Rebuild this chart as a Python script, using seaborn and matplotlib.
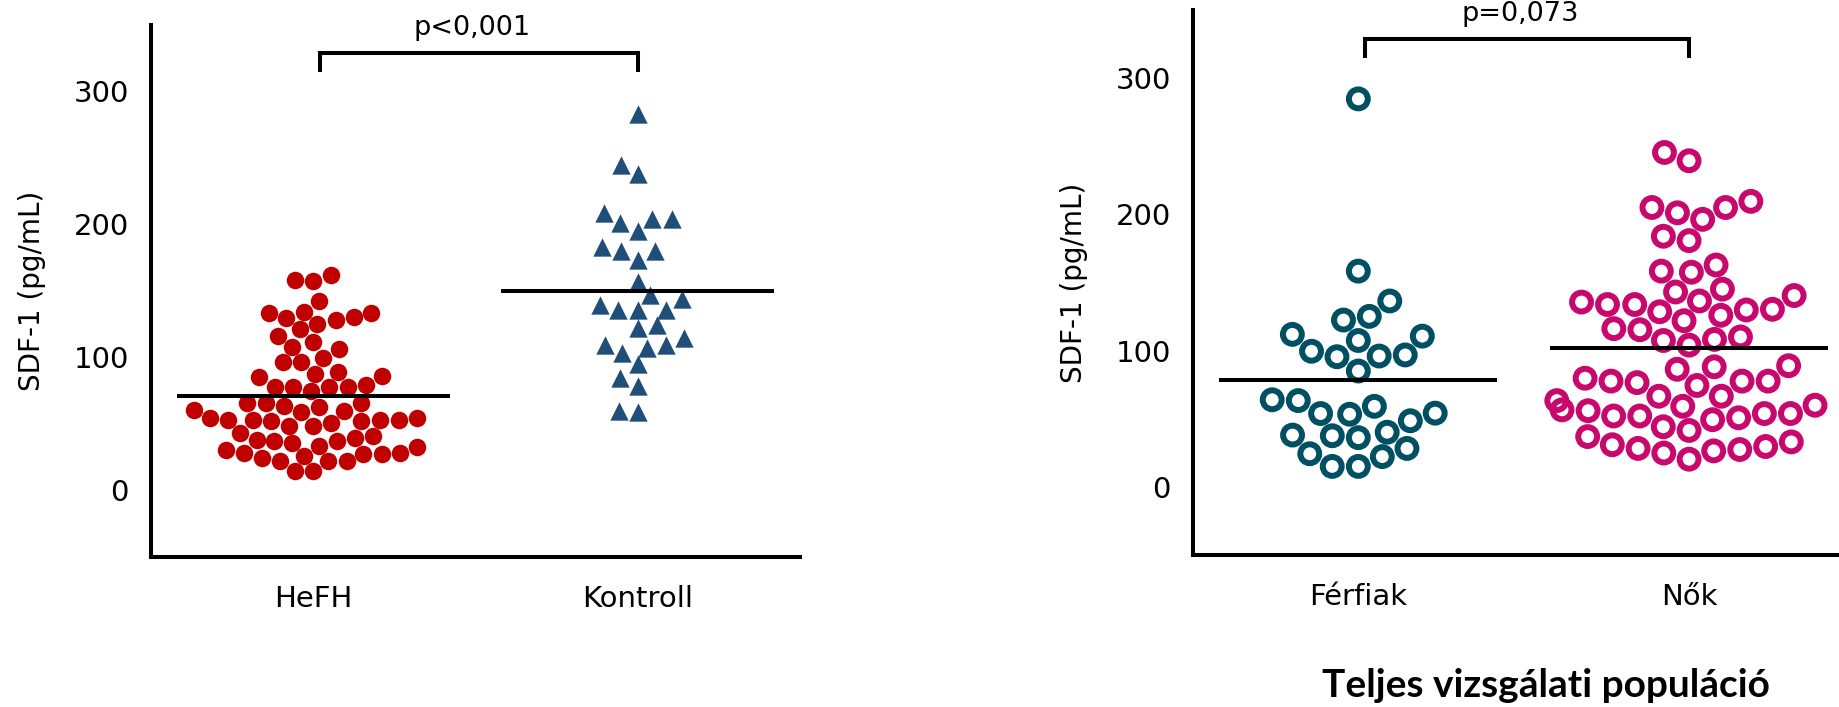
import warnings
import numpy as np
import pandas as pd
import matplotlib
matplotlib.use("Agg")
import matplotlib.pyplot as plt
import seaborn as sns

warnings.filterwarnings("ignore")

# ---------------- data ----------------
left_categories = ["HeFH", "Kontroll"]
right_categories = ["Férfiak", "Nők"]

hefh = [158.2, 157.7, 161.7, 142.6, 134.5, 133.4, 129.7, 125.4, 121.1, 127.8, 130.2, 133.4,
        116.0, 107.9, 106.5, 111.9, 99.5, 96.3, 96.3, 87.7, 85.0, 86.1, 89.0,
        79.4, 77.5, 78.0, 74.8, 77.5, 77.5,
        65.9, 62.7, 60.0, 58.6, 60.5, 63.2, 65.4, 65.9, 54.6, 54.1,
        53.3, 53.3, 51.9, 50.6, 48.7, 41.2, 37.9, 37.1, 35.8, 37.1, 39.5, 43.0, 48.7, 51.9, 53.3, 53.3,
        32.6, 28.2, 27.7, 25.8, 22.3, 21.8, 14.3, 14.3, 21.8, 24.5, 27.7, 28.2, 30.4, 33.6]

kontroll = [283.3, 245.0, 238.0, 208.5, 204.0, 195.0, 200.7, 204.0, 183.0, 179.7, 173.0, 179.7,
            157.0, 144.0, 146.6, 139.4, 135.9, 135.9, 135.9, 124.0, 121.9, 114.3, 109.0, 103.0,
            107.0, 109.0, 95.0, 84.2, 78.3, 58.7, 59.5]

ferfiak = [284.7, 158.3, 136.4, 125.1, 122.4, 111.9, 110.6, 107.4, 99.5, 96.8, 95.5, 96.0, 85.0,
           63.3, 59.1, 63.9, 53.3, 48.5, 53.8, 54.1, 38.0, 40.1, 36.1, 37.5, 28.2, 22.2, 24.3,
           15.0, 15.0]

nok = [245.4, 239.3, 209.5, 205.0, 201.1, 205.0, 196.3, 180.7, 183.9, 158.3, 157.5, 162.8,
       143.0, 136.4, 133.8, 130.3, 128.5, 129.8, 133.8, 135.6, 140.4, 145.1,
       125.9, 121.9, 116.1, 115.3, 110.0, 107.4, 104.0, 108.2,
       88.9, 86.3, 77.6, 77.6, 74.4, 76.5, 77.6, 79.7, 88.1,
       66.5, 59.1, 55.9, 53.8, 52.0, 50.7, 49.3, 52.0, 53.8, 56.5, 59.9, 63.3, 66.5,
       44.1, 36.9, 30.9, 28.2, 27.4, 20.3, 24.8, 26.4, 29.6, 33.0, 41.4]

p_texts = ["p<0,001", "p=0,073"]
y_ticks = [0, 100, 200, 300]
y_label = "SDF-1 (pg/mL)"
footer = "Teljes vizsgálati populáció"

# ---------------- style ----------------
sns.set_style("white")
plt.rcParams["font.family"] = ["DejaVu Sans"]
plt.rcParams.update({"text.color": "black", "axes.labelcolor": "black",
                     "xtick.color": "black", "ytick.color": "black"})

RED = "#C00000"
BLUE = "#1F4E79"
TEAL = "#004F63"
MAGENTA = "#C8086C"
LW = 2.9          # axis / line width in points
TICK_FS = 21
LABEL_FS = 20
P_FS = 19.5

fig = plt.figure(figsize=(18.39, 7.07), dpi=100)
axL = fig.add_axes([0.0821, 0.2122, 0.3529, 0.7527])
axR = fig.add_axes([0.6487, 0.215, 0.3597, 0.771])


def draw_panel(ax, cats, groups, markers, colors, sizes, hollow, ptext):
    for cat, vals, mk, col, sz, hol in zip(cats, groups, markers, colors, sizes, hollow):
        n_before = len(ax.collections)
        df = pd.DataFrame({"group": [cat] * len(vals), "value": vals})
        sns.swarmplot(data=df, x="group", y="value", order=cats, ax=ax,
                      marker=mk, color=col, size=sz, linewidth=0, warn_thresh=1.0)
        if hol:
            for coll in ax.collections[n_before:]:
                if len(coll.get_offsets()) > 0:
                    coll.set_facecolor("none")
                    coll.set_edgecolor(col)
                    coll.set_linewidth(4.3)
        # mean line
        ax.hlines(np.mean(vals), cats.index(cat) - 0.42, cats.index(cat) + 0.42,
                  color="black", linewidth=LW, zorder=5)

    ax.set_xlim(-0.5, 1.5)
    ax.set_ylim(-50, 350)
    ax.set_yticks(y_ticks)
    ax.set_yticklabels([str(t) for t in y_ticks])
    ax.set_xlabel("")
    ax.set_ylabel(y_label, fontsize=LABEL_FS, labelpad=20)
    for side in ["top", "right"]:
        ax.spines[side].set_visible(False)
    for side in ["left", "bottom"]:
        ax.spines[side].set_linewidth(LW)
        ax.spines[side].set_color("black")
    ax.tick_params(axis="both", direction="out", length=8, width=LW, color="black",
                   labelsize=TICK_FS, labelcolor="black")
    ax.tick_params(axis="y", pad=8)
    ax.tick_params(axis="x", pad=12)

    # significance bracket
    ax.plot([0.02, 0.02, 1.0, 1.0], [314.5, 329, 329, 314.5], color="black",
            linewidth=LW, solid_capstyle="butt", solid_joinstyle="miter", clip_on=False)
    ax.text(0.49, 342, ptext, ha="center", va="baseline", fontsize=P_FS, color="black")


draw_panel(axL, left_categories, [hefh, kontroll], ["o", "^"], [RED, BLUE],
           [12.6, 13.2], [False, False], p_texts[0])
draw_panel(axR, right_categories, [ferfiak, nok], ["o", "o"], [TEAL, MAGENTA],
           [13.6, 13.6], [True, True], p_texts[1])

fig.text(1546 / 1839, 10 / 707, footer, ha="center", va="baseline", color="black",
         fontsize=28, fontweight="bold", family=["Lato", "DejaVu Sans"])

fig.savefig("out.png", dpi=100)
